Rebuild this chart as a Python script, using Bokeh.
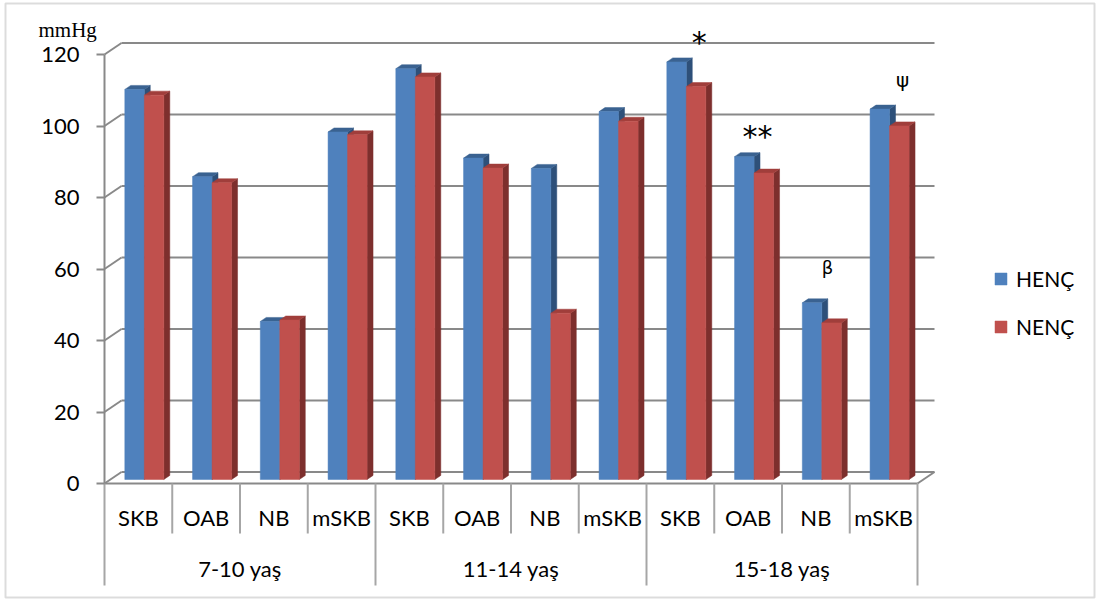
import numpy as np
from bokeh.plotting import figure
from bokeh.models import (Range1d, LinearAxis, FixedTicker, Legend, LegendItem,
                          Label, BoxAnnotation, ColumnDataSource)
from bokeh.core.properties import value
from bokeh.embed import file_html
from bokeh.resources import INLINE

# ---------------- data ----------------
groups = ["7-10 yaş", "11-14 yaş", "15-18 yaş"]
measures = ["SKB", "OAB", "NB", "mSKB"]
series_names = ["HENÇ", "NENÇ"]
henc = [109.1, 84.7, 44.2, 97.2, 114.9, 89.9, 87.0, 102.9, 116.8, 90.3, 49.4, 103.6]
nenc = [107.5, 83.0, 44.6, 96.4, 112.6, 87.1, 46.5, 100.2, 109.9, 85.7, 43.8, 98.9]
y_ticks = [0, 20, 40, 60, 80, 100, 120]
unit_label = "mmHg"
sig_marks = ["*", "**", "β", "ψ"]
sig_slots = [8, 9, 10, 11]
sig_levels = [123.3, 97.2, 60.4, 113.0]

# ---------------- layout (pixels) ----------------
W, H = 1103, 604
AXIS_PX = 104            # front value axis
SLOT_PX = 67.75          # width of one category slot
UNIT_PX = 3.575          # pixels per mmHg
ZERO_PX = 483            # front floor edge
DEPTH_PX = (17, 11.5)    # offset of the back wall
BAR_PLANE = 0.35         # depth position of the bars (0 front, 1 back)
BAR_DEPTH = 0.35         # thickness of a bar, same fraction
BAR_W = 0.288            # bar width in slots
FONT = "Lato"
GRID = "#898989"

n_slots = len(groups) * len(measures)
dx = DEPTH_PX[0] / SLOT_PX
dy = DEPTH_PX[1] / UNIT_PX


def xd(px):
    return (px - AXIS_PX) / SLOT_PX


def yd(px):
    return (ZERO_PX - px) / UNIT_PX


p = figure(width=W, height=H, output_backend="svg", toolbar_location=None,
           x_range=Range1d(xd(0), xd(W)), y_range=Range1d(yd(H), yd(0)),
           x_axis_location=None, y_axis_location=None,
           min_border_left=0, min_border_right=0, min_border_top=0, min_border_bottom=0)
p.outline_line_color = None
p.xgrid.visible = False
p.ygrid.visible = False
p.background_fill_color = "white"
p.border_fill_color = "white"

# value axis, pinned to the front edge of the chart
yaxis = LinearAxis(ticker=FixedTicker(ticks=y_ticks), bounds=(min(y_ticks), max(y_ticks)),
                   fixed_location=0,
                   axis_line_color=GRID, axis_line_width=2,
                   major_tick_line_color=GRID, major_tick_line_width=2,
                   major_tick_out=8, major_tick_in=0, minor_tick_line_color=None,
                   major_label_text_font=FONT, major_label_text_font_size="22px",
                   major_label_text_color="black", major_label_standoff=17)
p.add_layout(yaxis, "left")

# walls: back gridlines and left-wall diagonals
top_x = dx + n_slots
ticks = np.array(y_ticks, dtype=float)
p.segment(x0=np.full(len(ticks), dx), y0=ticks + dy, x1=np.full(len(ticks), top_x), y1=ticks + dy,
          line_color=GRID, line_width=2)
p.segment(x0=np.zeros(len(ticks)), y0=ticks, x1=np.full(len(ticks), dx), y1=ticks + dy,
          line_color=GRID, line_width=2)
# floor front edge and right edge
p.segment(x0=[0, n_slots], y0=[0, 0], x1=[n_slots, n_slots + dx], y1=[0, dy],
          line_color=GRID, line_width=2)

# bars with pseudo-depth
slots = np.arange(n_slots) + 0.5
bx, by = BAR_PLANE * dx, BAR_PLANE * dy
ddx, ddy = BAR_DEPTH * dx, BAR_DEPTH * dy
palettes = [("#4F81BD", "#3A6291", "#2E5079"), ("#C0504D", "#A03E3B", "#7D2F2D")]
fronts = []
for s, vals in enumerate([henc, nenc]):
    v = np.array(vals, dtype=float)
    x0 = slots + bx - BAR_W if s == 0 else slots + bx
    x1 = x0 + BAR_W
    t = by + v
    front_c, top_c, side_c = palettes[s]
    side_xs = [[a, a + ddx, a + ddx, a] for a in x1]
    side_ys = [[by, by + ddy, tt + ddy, tt] for tt in t]
    p.patches(xs=side_xs, ys=side_ys, fill_color=side_c, line_color=side_c, line_width=0.5)
    top_xs = [[a, b, b + ddx, a + ddx] for a, b in zip(x0, x1)]
    top_ys = [[tt, tt, tt + ddy, tt + ddy] for tt in t]
    p.patches(xs=top_xs, ys=top_ys, fill_color=top_c, line_color=top_c, line_width=0.5)
    r = p.quad(left=x0, right=x1, bottom=by, top=t, fill_color=front_c,
               line_color=front_c, line_width=0.5)
    fronts.append(r)

# category axis: dividers and labels
inner_bottom = yd(533)
group_bottom = yd(585)
div_x = np.arange(n_slots + 1)
div_y1 = [group_bottom if i % len(measures) == 0 else inner_bottom for i in div_x]
p.segment(x0=div_x, y0=np.zeros(len(div_x)), x1=div_x, y1=div_y1,
          line_color="#a6a6a6", line_width=2)
sub_labels = measures * len(groups)
p.text(x=slots, y=np.full(n_slots, yd(517)), text=sub_labels, text_align="center",
       text_baseline="middle", text_font=value(FONT), text_font_size="22px", text_color="black")
group_x = np.arange(len(groups)) * len(measures) + len(measures) / 2
p.text(x=group_x, y=np.full(len(groups), yd(568)), text=groups, text_align="center",
       text_baseline="middle", text_font=value(FONT), text_font_size="22px", text_color="black")

# significance marks
sig_offsets = [0.28, 0.14, 0.17, 0.28]
sig_sizes = ["30px", "30px", "18px", "20px"]
src = ColumnDataSource(dict(x=np.array(sig_slots) + 0.5 + np.array(sig_offsets),
                            y=sig_levels, text=sig_marks, size=sig_sizes))
p.text(x="x", y="y", text="text", text_font_size="size", source=src, text_align="center",
       text_baseline="middle", text_font=value("DejaVu Sans"), text_color="black")

# unit label
p.add_layout(Label(x=xd(38), y=yd(29), text=unit_label, text_font="Liberation Serif",
                   text_font_size="21px", text_baseline="middle", text_align="left",
                   text_color="black"))

# legend
legend = Legend(items=[LegendItem(label=n, renderers=[r]) for n, r in zip(series_names, fronts)],
                location=(993, H - 339), padding=0, margin=0, spacing=23,
                glyph_width=15, glyph_height=15, label_standoff=8,
                label_text_font=FONT, label_text_font_size="21px", label_text_color="black",
                border_line_color=None, background_fill_alpha=0)
p.add_layout(legend, "center")

# chart border
p.add_layout(BoxAnnotation(left=xd(5), right=xd(1094), top=yd(3), bottom=yd(597),
                           fill_color=None, line_color="#8c8c8c", line_width=2))

open("out.html", "w").write(file_html(p, INLINE))
